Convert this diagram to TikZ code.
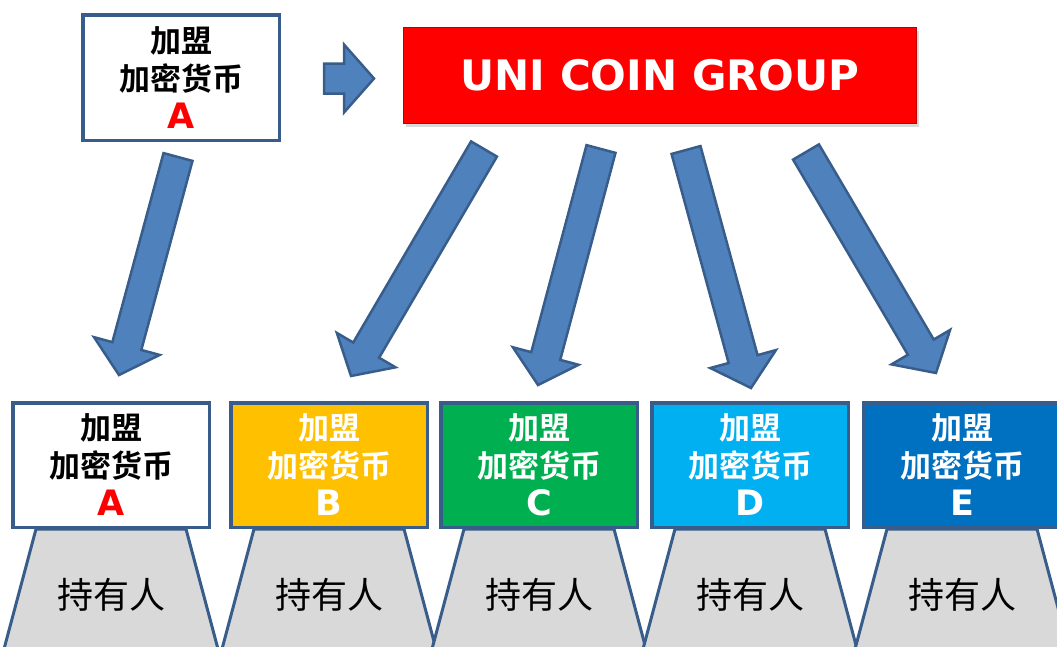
\documentclass[tikz,border=0pt]{standalone}
\usepackage{fontspec}
\setmainfont{Noto Sans CJK SC}[BoldFont={Noto Sans CJK SC Bold}]
\newfontfamily\latinfont{DejaVu Sans}
\usepackage{tikz}
\usetikzlibrary{
  calc,
  positioning,
  shadows,
}
\definecolor{boxline}{RGB}{56,93,138}
\definecolor{arrowfill}{RGB}{79,129,189}
\definecolor{tokenyellow}{RGB}{255,192,0}
\definecolor{tokengreen}{RGB}{0,176,80}
\definecolor{tokencyan}{RGB}{0,176,240}
\definecolor{tokenblue}{RGB}{0,112,192}
\definecolor{holdergray}{RGB}{217,217,217}
\definecolor{groupred}{RGB}{255,0,0}
\tikzstyle{token} = [
  rectangle,
  draw=boxline,
  line width=3.5pt,
  minimum width=196.5,
  minimum height=124.5,
  inner sep=0pt,
  align=center,
  text=white,
  font=\fontsize{31}{38}\selectfont\bfseries,
]
\tikzstyle{holder} = [
  draw=boxline,
  line width=3pt,
  fill=holdergray,
]
\tikzstyle{fatarrow} = [
  draw=boxline,
  line width=2.5pt,
  fill=arrowfill,
]
% three lines of a member box
\newcommand{\tokentext}[2]{加盟\\加密货币\\{\latinfont\bfseries\fontsize{35}{38}\selectfont\color{#1}#2}}
% block arrow from tail to tip
\newcommand{\blockarrow}[2]{%
  \coordinate (hb) at ($(#2)!30pt!(#1)$);
  \draw[fatarrow] ($(#1)!15pt!90:(#2)$) -- ($(hb)!15pt!90:(#2)$) -- ($(hb)!34pt!90:(#2)$) -- (#2)
    -- ($(hb)!34pt!-90:(#2)$) -- ($(hb)!15pt!-90:(#2)$) -- ($(#1)!15pt!-90:(#2)$) -- cycle;}
% holders under a member box
\newcommand{\holder}[1]{%
  \draw[holder] ($(#1.south)+(-75,0)$) -- ($(#1.south)+(-115,150)$) -- ($(#1.south)+(115,150)$) -- ($(#1.south)+(75,0)$) -- cycle;
  \node[font=\fontsize{36}{40}\selectfont] (holder#1) at ($(#1.south)+(0,66)$) {持有人};}

\begin{document}
\begin{tikzpicture}[x=1pt,y=-1pt,node distance=0mm and 0mm]
      \useasboundingbox (0,0) rectangle (1057,646);
      \clip (0,0) rectangle (1057,646);

      \node[token,fill=white,text=black,minimum height=125.5] (joinA) at (181,77.5) {\tokentext{groupred}{A}};
      \node[rectangle,fill=groupred,draw=groupred!75!black,line width=1pt,minimum width=513,minimum height=96,
        drop shadow={shadow xshift=2pt,shadow yshift=-3pt,opacity=0.3},text=white,
        font=\latinfont\bfseries\fontsize{42}{46}\selectfont] (group) at (660,75.5) {UNI COIN GROUP};

      \node[token,fill=white,text=black] (tokenA) at (111,465) {\tokentext{groupred}{A}};
      \node[token,fill=tokenyellow,xshift=18] (tokenB) [right=of tokenA] {\tokentext{white}{B}};
      \node[token,fill=tokengreen,xshift=10] (tokenC) [right=of tokenB] {\tokentext{white}{C}};
      \node[token,fill=tokencyan,xshift=11] (tokenD) [right=of tokenC] {\tokentext{white}{D}};
      \node[token,fill=tokenblue,xshift=12] (tokenE) [right=of tokenD] {\tokentext{white}{E}};

      \holder{tokenA}
      \holder{tokenB}
      \holder{tokenC}
      \holder{tokenD}
      \holder{tokenE}

      \coordinate (tailJoin) at (324,78.5);
      \coordinate (tipJoin) at (374,78.5);
      \coordinate (tailA) at (178,157);
      \coordinate (tipA) at (119,375);
      \coordinate (tailB) at (484,149);
      \coordinate (tipB) at (351,376);
      \coordinate (tailC) at (601,149);
      \coordinate (tipC) at (538,385);
      \coordinate (tailD) at (686,150);
      \coordinate (tipD) at (751,388);
      \coordinate (tailE) at (806,152);
      \coordinate (tipE) at (936,373);

      \blockarrow{tailJoin}{tipJoin}
      \blockarrow{tailA}{tipA}
      \blockarrow{tailB}{tipB}
      \blockarrow{tailC}{tipC}
      \blockarrow{tailD}{tipD}
      \blockarrow{tailE}{tipE}
\end{tikzpicture}
\end{document}
